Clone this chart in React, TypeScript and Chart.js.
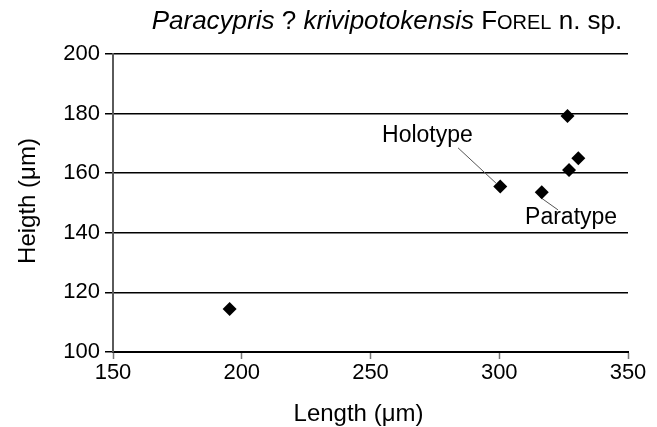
import React, { useEffect, useRef } from "react";
import { Chart, registerables } from "chart.js";

Chart.register(...registerables);

// Data
const lengths = [195.3, 300.4, 316.5, 326.5, 327.1, 330.7];
const heights = [114.4, 155.5, 153.6, 179.2, 161.1, 165.0];

const xMin = 150;
const xMax = 350;
const xStep = 50;
const yMin = 100;
const yMax = 200;
const yStep = 20;

const xTitle = "Length (μm)";
const yTitle = "Heigth (μm)";

// Annotation labels (data coordinates)
const labelTexts = ["Holotype", "Paratype"];
const labelX = [272.1, 327.9];
const labelY = [172.5, 145.0];
const leaderFromX = [284.0, 315.8];
const leaderFromY = [168.5, 152.0];
const leaderToX = [298.7, 322.8];
const leaderToY = [156.7, 147.7];

const FONT = "'Liberation Sans', Arial, sans-serif";

const annotationPlugin = {
  id: "annotations",
  beforeDatasetsDraw(chart: any) {
    const { ctx, scales } = chart;
    const xs = scales.x;
    const ys = scales.y;
    ctx.save();
    ctx.strokeStyle = "#555555";
    ctx.lineWidth = 1;
    for (let i = 0; i < labelTexts.length; i++) {
      ctx.beginPath();
      ctx.moveTo(xs.getPixelForValue(leaderFromX[i]), ys.getPixelForValue(leaderFromY[i]));
      ctx.lineTo(xs.getPixelForValue(leaderToX[i]), ys.getPixelForValue(leaderToY[i]));
      ctx.stroke();
    }
    ctx.restore();
  },
  afterDraw(chart: any) {
    const { ctx, scales, chartArea } = chart;
    const xs = scales.x;
    const ys = scales.y;
    ctx.save();
    ctx.fillStyle = "#000";
    ctx.font = `23px ${FONT}`;
    ctx.textAlign = "center";
    ctx.textBaseline = "middle";
    for (let i = 0; i < labelTexts.length; i++) {
      ctx.fillText(labelTexts[i], xs.getPixelForValue(labelX[i]), ys.getPixelForValue(labelY[i]));
    }

    // Axis titles
    ctx.font = `24px ${FONT}`;
    ctx.fillText(xTitle, (chartArea.left + chartArea.right) / 2 - 12, 414);
    ctx.save();
    ctx.translate(28, (chartArea.top + chartArea.bottom) / 2 - 2);
    ctx.rotate(-Math.PI / 2);
    ctx.fillText(yTitle, 0, 0);
    ctx.restore();

    // Title with mixed styles
    const segs: { t: string; f: string }[] = [
      { t: "Paracypris", f: `italic 26px ${FONT}` },
      { t: " ? ", f: `26px ${FONT}` },
      { t: "krivipotokensis", f: `italic 26px ${FONT}` },
      { t: " F", f: `26px ${FONT}` },
      { t: "OREL", f: `20px ${FONT}` },
      { t: " n. sp.", f: `26px ${FONT}` },
    ];
    let total = 0;
    for (const s of segs) {
      ctx.font = s.f;
      total += ctx.measureText(s.t).width;
    }
    const cx = 387;
    let x = cx - total / 2;
    ctx.textAlign = "left";
    ctx.textBaseline = "alphabetic";
    for (const s of segs) {
      ctx.font = s.f;
      ctx.fillText(s.t, x, 29);
      x += ctx.measureText(s.t).width;
    }
    ctx.restore();
  },
};

export default function App() {
  const ref = useRef<HTMLCanvasElement>(null);

  useEffect(() => {
    document.body.style.margin = "0";
    const canvas = ref.current;
    if (!canvas) return;
    const chart = new Chart(canvas, {
      type: "scatter",
      data: {
        datasets: [
          {
            data: lengths.map((l, i) => ({ x: l, y: heights[i] })),
            pointStyle: "rectRot",
            pointRadius: 7,
            backgroundColor: "#000",
            borderColor: "#000",
            borderWidth: 0,
          },
        ],
      },
      options: {
        animation: false,
        responsive: false,
        layout: { padding: { top: 54, right: 29, left: 0, bottom: 0 } },
        plugins: {
          legend: { display: false },
          tooltip: { enabled: false },
          title: { display: false },
        },
        scales: {
          x: {
            type: "linear",
            min: xMin,
            max: xMax,
            afterFit(scale: any) {
              scale.height = 75;
            },
            ticks: {
              stepSize: xStep,
              color: "#000",
              padding: 1,
              font: { family: FONT, size: 22 },
              maxRotation: 0,
            },
            grid: {
              drawOnChartArea: false,
              drawTicks: true,
              tickLength: 7,
              tickColor: "#777",
              tickWidth: 1.5,
            },
            border: { display: true, color: "#000", width: 2 },
            title: { display: false },
          },
          y: {
            type: "linear",
            min: yMin,
            max: yMax,
            afterFit(scale: any) {
              scale.width = 113;
            },
            ticks: {
              stepSize: yStep,
              color: "#000",
              padding: 5,
              font: { family: FONT, size: 22 },
            },
            grid: {
              color: "#000",
              lineWidth: 1.5,
              tickLength: 8,
              tickColor: "#000",
            },
            border: { display: true, color: "#5a5a5a", width: 2 },
            title: { display: false },
          },
        },
      },
      plugins: [annotationPlugin],
    });
    return () => chart.destroy();
  }, []);

  return <canvas ref={ref} width={657} height={427} />;
}
